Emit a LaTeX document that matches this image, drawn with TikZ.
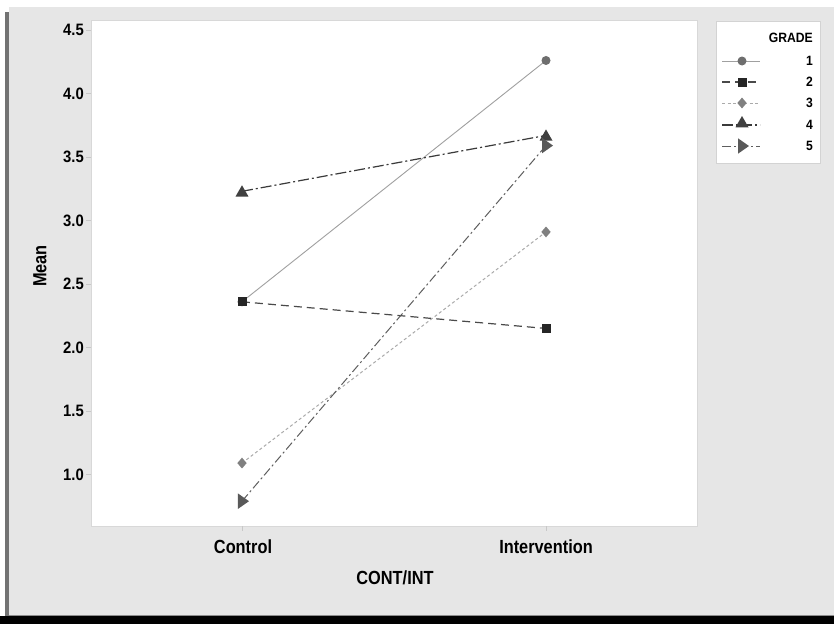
\documentclass[tikz,border=0pt]{standalone}
\usepackage{fontspec}
\usetikzlibrary{shapes.geometric}
\newfontfamily\labfont[FakeStretch=0.86]{Liberation Sans}
\newfontfamily\tickfont[FakeStretch=0.9]{Liberation Sans}
\definecolor{bggray}{HTML}{E6E6E6}
\definecolor{framegray}{HTML}{C8C8C8}
\definecolor{cA}{HTML}{A0A0A0}
\definecolor{cB}{HTML}{4A4A4A}
\definecolor{cC}{HTML}{AAAAAA}
\definecolor{cD}{HTML}{3A3A3A}
\definecolor{cE}{HTML}{5E5E5E}
\tikzset{
  ticklab/.style={font=\tickfont\bfseries\fontsize{16.5}{16.5}\selectfont, anchor=east, inner sep=0pt},
  catlab/.style={font=\labfont\bfseries\fontsize{19}{19}\selectfont, inner sep=0pt},
  leglab/.style={font=\tickfont\bfseries\fontsize{13.5}{13.5}\selectfont, anchor=east, inner sep=0pt},
  tickmark/.style={draw=framegray, line width=0.8pt},
  lineA/.style={draw=cA, line width=0.9pt},
  lineB/.style={draw=cB, line width=1.2pt, dash pattern=on 8pt off 5pt},
  lineC/.style={draw=cC, line width=1pt, dash pattern=on 3pt off 2.5pt},
  lineD/.style={draw=cD, line width=1.2pt, dash pattern=on 11pt off 3pt on 2pt off 3pt},
  lineE/.style={draw=cE, line width=1pt, dash pattern=on 9pt off 3pt on 2pt off 3pt},
  mkA/.style={circle, fill=cB!80, draw=none, minimum size=9pt, inner sep=0pt},
  mkB/.style={rectangle, fill=black!85, draw=none, minimum size=9pt, inner sep=0pt},
  mkC/.style={diamond, fill=black!50, draw=none, minimum width=9.5pt, minimum height=11pt, inner sep=0pt},
  mkD/.style={regular polygon, regular polygon sides=3, fill=black!75, draw=none, minimum size=15pt, inner sep=0pt},
  mkE/.style={isosceles triangle, isosceles triangle apex angle=70, fill=black!65, draw=none, minimum height=11pt, minimum width=12pt, inner sep=0pt}
}
\begin{document}
\begin{tikzpicture}[x=1pt, y=-1pt]
\useasboundingbox (0,0) rectangle (834,624);
% background frame
\fill[white] (0,0) rectangle (834,624);
\fill[bggray] (9,7) rectangle (834,616);
\fill[black!55] (5,12) rectangle (9,616);
\fill[black] (0,616) rectangle (834,624);
\draw[black!45, line width=1pt] (9,615.5) -- (834,615.5);
% plot area
\fill[white] (91,20) rectangle (697,526);
\draw[framegray!70, line width=0.5pt] (91,20) rectangle (697,526);
% y ticks
\foreach \v/\t in {4.5/4.5,4.0/4.0,3.5/3.5,3.0/3.0,2.5/2.5,2.0/2.0,1.5/1.5,1.0/1.0}{
  \draw[tickmark] (86,{30+(4.5-\v)*127}) -- (91,{30+(4.5-\v)*127});
  \node[ticklab] (yt\t) at (84,{30+(4.5-\v)*127}) {\t};
}
% x ticks
\draw[tickmark] (242,526) -- (242,531);
\draw[tickmark] (546,526) -- (546,531);
\node[catlab] (ctrl) at (243,547) {Control};
\node[catlab] (intv) at (546,547) {Intervention};
\node[catlab] (xtitle) at (395,578) {CONT/INT};
\node[catlab, rotate=90] (ytitle) at (40,266) {Mean};
% data coordinates
\coordinate (a1) at (242,{30+(4.5-2.36)*127});
\coordinate (a2) at (546,{30+(4.5-4.26)*127});
\coordinate (b1) at (242,{30+(4.5-2.36)*127});
\coordinate (b2) at (546,{30+(4.5-2.15)*127});
\coordinate (c1) at (242,{30+(4.5-1.09)*127});
\coordinate (c2) at (546,{30+(4.5-2.91)*127});
\coordinate (d1) at (242,{30+(4.5-3.23)*127});
\coordinate (d2) at (546,{30+(4.5-3.67)*127});
\coordinate (e1) at (242,{30+(4.5-0.79)*127});
\coordinate (e2) at (546,{30+(4.5-3.59)*127});
% lines
\draw[lineA] (a1) -- (a2);
\draw[lineB] (b1) -- (b2);
\draw[lineC] (c1) -- (c2);
\draw[lineD] (d1) -- (d2);
\draw[lineE] (e1) -- (e2);
% markers
\node[mkA] (ma1) at (a1) {};
\node[mkA] (ma2) at (a2) {};
\node[mkB] (mb1) at (b1) {};
\node[mkB] (mb2) at (b2) {};
\node[mkC] (mc1) at (c1) {};
\node[mkC] (mc2) at (c2) {};
\node[mkD] (md1) at ([yshift=-1.5pt]d1) {};
\node[mkD] (md2) at ([yshift=-1.5pt]d2) {};
\node[mkE] (me1) at (e1) {};
\node[mkE] (me2) at (e2) {};
% legend
\fill[white] (716,21) rectangle (820,163);
\draw[framegray!80, line width=0.6pt] (716,21) rectangle (820,163);
\node[leglab] (lg) at (813,38) {GRADE};
\foreach \s/\m/\n/\yy in {A/A/1/61, B/B/2/82, C/C/3/103, D/D/4/125, E/E/5/146}{
  \coordinate (l\n a) at (722,\yy);
  \coordinate (l\n b) at (760,\yy);
  \draw[line\s] (l\n a) -- (l\n b);
  \node[leglab] (ln\n) at (813,\yy) {\n};
}
\node[mkA] (lm1) at (742,61) {};
\node[mkB] (lm2) at (742,82) {};
\node[mkC] (lm3) at (742,103) {};
\node[mkD] (lm4) at (742,123.5) {};
\node[mkE] (lm5) at (742,146) {};
\end{tikzpicture}
\end{document}
